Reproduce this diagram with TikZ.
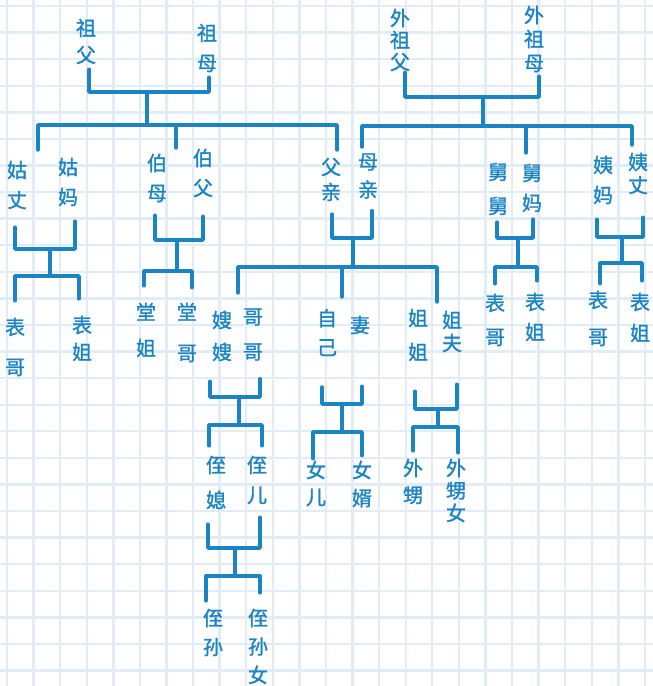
\documentclass[tikz,border=0pt]{standalone}
\usepackage{fontspec}
\newfontfamily\cjk[FakeBold=1.3]{Noto Sans CJK SC}
\definecolor{ink}{RGB}{26,132,196}
\definecolor{gridc}{RGB}{226,236,247}
\newcommand\sk[1]{\fontsize{20}{#1}\selectfont}
\begin{document}
\begin{tikzpicture}[x=1pt,y=-1pt,
 ln/.style={draw=ink,line width=3.4pt,line cap=round,line join=round},
 per/.style={text=ink,align=center,inner sep=0pt,outer sep=0pt},
 gridline/.style={draw=gridc,line width=2.4pt}]
\useasboundingbox (0,0) rectangle (653,686);
\fill[white] (0,0) rectangle (653,686);
\foreach \i in {0,...,24} \draw[gridline] ({7+26.58*\i},0) -- ({7+26.58*\i},686);
\foreach \j in {0,...,25} \draw[gridline] (0,{6+26.58*\j}) -- (653,{6+26.58*\j});

% generation 1
\node[per,font={\cjk\sk{27}}] (gf) at (86,41.5) {祖\\父};
\node[per,font={\cjk\sk{30}}] (gm) at (207,48) {祖\\母};
\node[per,font={\cjk\sk{22}}] (mgf) at (400,40) {外\\祖\\父};
\node[per,font={\cjk\sk{24}}] (mgm) at (534,39) {外\\祖\\母};
% generation 2
\node[per,font={\cjk\sk{30}}] (gz) at (17,185) {姑\\丈};
\node[per,font={\cjk\sk{30}}] (gma) at (68,182) {姑\\妈};
\node[per,font={\cjk\sk{30}}] (bm) at (157,178) {伯\\母};
\node[per,font={\cjk\sk{30}}] (bf) at (203,173) {伯\\父};
\node[per,font={\cjk\sk{25}}] (fq) at (331,179.5) {父\\亲};
\node[per,font={\cjk\sk{28}}] (mq) at (368,176) {母\\亲};
\node[per,font={\cjk\sk{34}}] (jj) at (498,189) {舅\\舅};
\node[per,font={\cjk\sk{30}}] (jm) at (532,188) {舅\\妈};
\node[per,font={\cjk\sk{30}}] (ym) at (603,180) {姨\\妈};
\node[per,font={\cjk\sk{23}}] (yz) at (638,173.5) {姨\\丈};
% generation 3
\node[per,font={\cjk\sk{40}}] (bg1) at (15,347) {表\\哥};
\node[per,font={\cjk\sk{27}}] (bj1) at (82,338.5) {表\\姐};
\node[per,font={\cjk\sk{36}}] (tj) at (146,330) {堂\\姐};
\node[per,font={\cjk\sk{41}}] (tg) at (187,332.5) {堂\\哥};
\node[per,font={\cjk\sk{32}}] (ss) at (222,336) {嫂\\嫂};
\node[per,font={\cjk\sk{35}}] (gg) at (253,334.5) {哥\\哥};
\node[per,font={\cjk\sk{29}}] (zj) at (327,332.5) {自\\己};
\node[per,font={\cjk\sk{29}}] (qi) at (360,325) {妻};
\node[per,font={\cjk\sk{34}}] (jie) at (418,335) {姐\\姐};
\node[per,font={\cjk\sk{23}}] (jf) at (452,331.5) {姐\\夫};
\node[per,font={\cjk\sk{34}}] (bg2) at (495,320) {表\\哥};
\node[per,font={\cjk\sk{30}}] (bj2) at (535,317) {表\\姐};
\node[per,font={\cjk\sk{37}}] (bg3) at (598,318.5) {表\\哥};
\node[per,font={\cjk\sk{31}}] (bj3) at (640,317.5) {表\\姐};
% generation 4
\node[per,font={\cjk\sk{35}}] (zx) at (216,482.5) {侄\\媳};
\node[per,font={\cjk\sk{30}}] (ze) at (257,480) {侄\\儿};
\node[per,font={\cjk\sk{27}}] (ne) at (316,483.5) {女\\儿};
\node[per,font={\cjk\sk{28}}] (nx) at (362,484) {女\\婿};
\node[per,font={\cjk\sk{27}}] (ws) at (413,481.5) {外\\甥};
\node[per,font={\cjk\sk{22.5}}] (wsn) at (456,490.5) {外\\甥\\女};
% generation 5
\node[per,font={\cjk\sk{29}}] (zs) at (213,632.5) {侄\\孙};
\node[per,font={\cjk\sk{28.5}}] (zsn) at (258,646.5) {侄\\孙\\女};

% junctions
\coordinate (j1) at (147,92);  \coordinate (s1) at (147,125);
\coordinate (j2) at (483,97);  \coordinate (s2) at (483,126);
\coordinate (j3) at (50,249);  \coordinate (s3) at (50,276);
\coordinate (j4) at (177,240); \coordinate (s4) at (177,271);
\coordinate (j5) at (353,238); \coordinate (s5) at (353,267);
\coordinate (j6) at (518,238); \coordinate (s6) at (518,267);
\coordinate (j7) at (622,237); \coordinate (s7) at (622,263);
\coordinate (j8) at (239,397); \coordinate (s8) at (239,425);
\coordinate (j9) at (342,404); \coordinate (s9) at (342,432);
\coordinate (j10) at (438,409); \coordinate (s10) at (438,427);
\coordinate (j11) at (235,548); \coordinate (s11) at (235,576);
% free drop ends
\coordinate (d1a) at (38,150); \coordinate (d1b) at (176,148); \coordinate (d1c) at (337,150);
\coordinate (d2a) at (362,147); \coordinate (d2b) at (526,153); \coordinate (d2c) at (632,145);
\coordinate (d5a) at (238,293); \coordinate (d5b) at (342,297); \coordinate (d5c) at (437,302);

% paternal grandparents
\draw[ln] ([shift={(3,5)}]gf.south) |- (j1) -| ([shift={(2,5)}]gm.south);
\draw[ln] (j1) -- (s1);
\draw[ln] (d1a) |- (s1) -| (d1c);
\draw[ln] (d1b) -- (d1b |- s1);
% maternal grandparents
\draw[ln] ([shift={(5,1)}]mgf.south) |- (j2) -| ([shift={(5,4)}]mgm.south);
\draw[ln] (j2) -- (s2);
\draw[ln] (d2a) |- (s2) -| (d2c);
\draw[ln] (d2b) -- (d2b |- s2);
% 姑
\draw[ln] ([shift={(-2,18)}]gz.south) |- (j3) -| ([shift={(7,15)}]gma.south);
\draw[ln] (j3) -- (s3);
\draw[ln] ([shift={(0,-17)}]bg1.north) |- (s3) -| ([shift={(-3,-17)}]bj1.north);
% 伯
\draw[ln] ([shift={(-2,13)}]bm.south) |- (j4) -| ([shift={(0,19)}]bf.south);
\draw[ln] (j4) -- (s4);
\draw[ln] ([shift={(-2,-17)}]tj.north) |- (s4) -| ([shift={(5,-15)}]tg.north);
% 父母
\draw[ln] ([shift={(1,13)}]fq.south) |- (j5) -| ([shift={(4,12)}]mq.south);
\draw[ln] (j5) -- (s5);
\draw[ln] (d5a) |- (s5) -| (d5c);
\draw[ln] (d5b) -- (d5b |- s5);
% 舅
\draw[ln] ([shift={(-1,7)}]jj.south) |- (j6) -| ([shift={(1,7)}]jm.south);
\draw[ln] (j6) -- (s6);
\draw[ln] ([shift={(0,-10)}]bg2.north) |- (s6) -| ([shift={(2,-12)}]bj2.north);
% 姨
\draw[ln] ([shift={(-6,15)}]ym.south) |- (j7) -| ([shift={(5,23)}]yz.south);
\draw[ln] (j7) -- (s7);
\draw[ln] ([shift={(2,-7)}]bg3.north) |- (s7) -| ([shift={(2,-12)}]bj3.north);
% 哥哥
\draw[ln] ([shift={(-12,20)}]ss.south) |- (j8) -| ([shift={(7,18)}]gg.south);
\draw[ln] (j8) -- (s8);
\draw[ln] ([shift={(-7,-10)}]zx.north) |- (s8) -| ([shift={(5,-10)}]ze.north);
% 自己
\draw[ln] ([shift={(-5,31)}]zj.south) |- (j9) -| ([shift={(2,52)}]qi.south);
\draw[ln] (j9) -- (s9);
\draw[ln] ([shift={(-3,-2)}]ne.north) |- (s9) -| ([shift={(0,-5)}]nx.north);
% 姐姐
\draw[ln] ([shift={(-3,30)}]jie.south) |- (j10) -| ([shift={(5,32)}]jf.south);
\draw[ln] (j10) -- (s10);
\draw[ln] ([shift={(0,-8)}]ws.north) |- (s10) -| ([shift={(2,-6)}]wsn.north);
% 侄
\draw[ln] ([shift={(-8,15)}]zx.south) |- (j11) -| ([shift={(3,13)}]ze.south);
\draw[ln] (j11) -- (s11);
\draw[ln] ([shift={(-7,-8)}]zs.north) |- (s11) -| ([shift={(2,-16)}]zsn.north);
\end{tikzpicture}
\end{document}
